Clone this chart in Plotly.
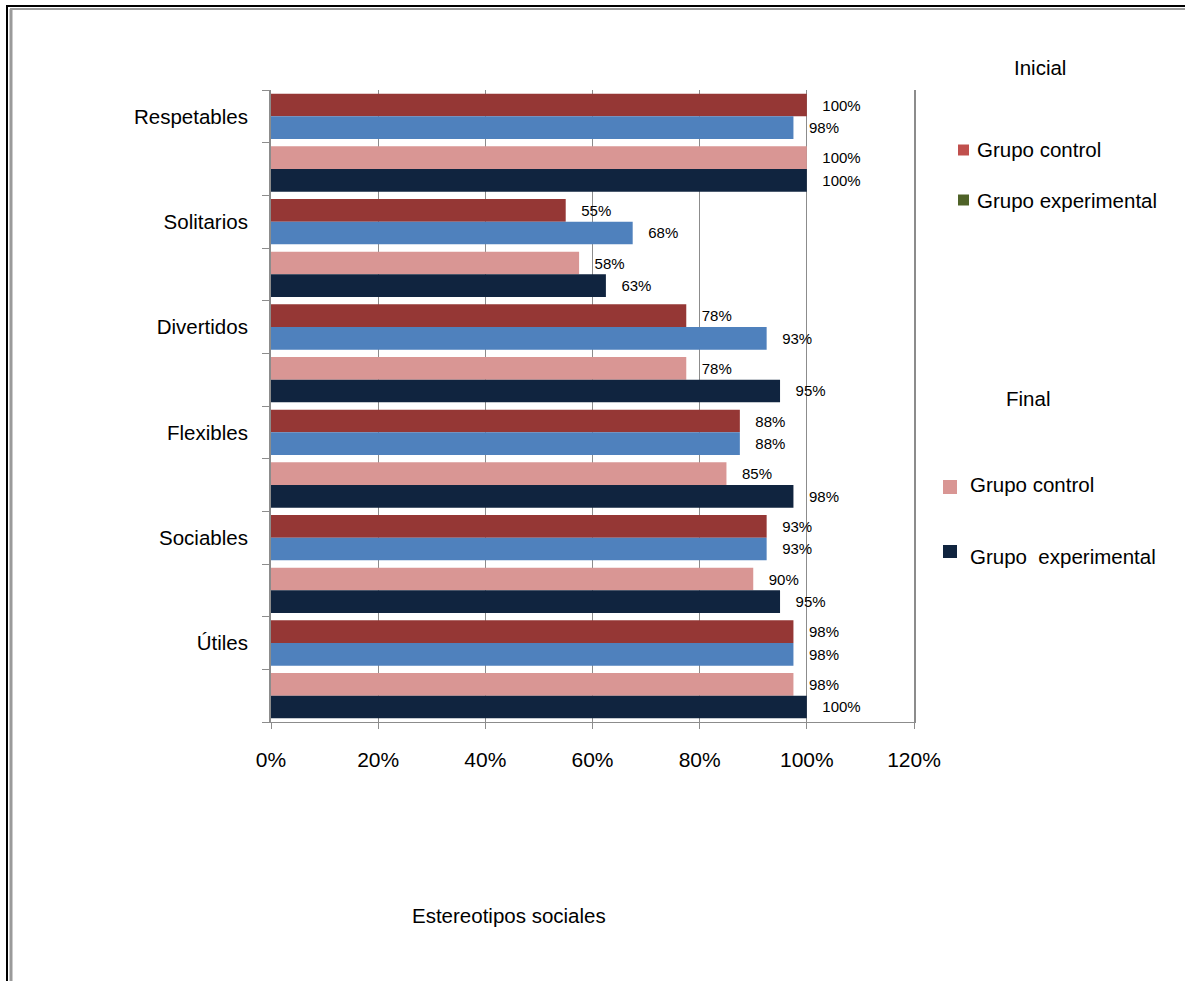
import plotly.graph_objects as go

categories = ["Respetables", "Solitarios", "Divertidos", "Flexibles", "Sociables", "Útiles"]
ini_control = [100, 55, 77.5, 87.5, 92.5, 97.5]
ini_experimental = [97.5, 67.5, 92.5, 87.5, 92.5, 97.5]
fin_control = [100, 57.5, 77.5, 85, 90, 97.5]
fin_experimental = [100, 62.5, 95, 97.5, 95, 100]
x_ticks = [0, 20, 40, 60, 80, 100, 120]

W, H = 1185, 981
L, R, T, B = 271, 271, 90, 259
PW, PH = W - L - R, H - T - B


def px(x):
    return (x - L) / PW


def py(y):
    return (H - B - y) / PH


def lab(vals):
    return ["\u00a0\u00a0\u00a0" + f"{int(v + 0.5)}%" for v in vals]


ini_y = [2 * i for i in range(len(categories))]
fin_y = [2 * i + 1 for i in range(len(categories))]
BW = 0.43
FONT = "Liberation Sans, Arial, sans-serif"

fig = go.Figure()
series = [
    (ini_control, ini_y, -BW, "#953735", "Inicial - Grupo control"),
    (ini_experimental, ini_y, 0, "#4F81BD", "Inicial - Grupo experimental"),
    (fin_control, fin_y, -BW, "#D99694", "Final - Grupo control"),
    (fin_experimental, fin_y, 0, "#10243F", "Final - Grupo experimental"),
]
for vals, ys, off, col, name in series:
    fig.add_trace(go.Bar(
        x=vals, y=ys, orientation="h", width=BW, offset=off,
        marker=dict(color=col, line=dict(width=0)), name=name,
        text=lab(vals), textposition="outside", constraintext="none",
        textfont=dict(size=15, color="#000000", family=FONT),
        cliponaxis=False, showlegend=False,
    ))

fig.update_layout(
    width=W, height=H, margin=dict(l=L, r=R, t=T, b=B),
    paper_bgcolor="white", plot_bgcolor="white",
    barmode="overlay", showlegend=False,
    font=dict(family=FONT, color="#000000", size=21),
    xaxis=dict(
        range=[0, 120], tickvals=x_ticks, ticktext=[f"{t}%" for t in x_ticks],
        showgrid=True, gridcolor="#8C8C8C", gridwidth=1, zeroline=False,
        showline=True, linecolor="#8C8C8C", linewidth=1,
        ticks="outside", ticklen=6, tickcolor="#8C8C8C",
        tickfont=dict(size=21), ticklabelstandoff=13,
    ),
    yaxis=dict(
        range=[11.5, -0.5], tickmode="array", tickvals=ini_y, ticktext=categories,
        ticks="", showgrid=False, zeroline=False,
        showline=True, mirror=True, linecolor="#8C8C8C", linewidth=2,
        tickfont=dict(size=20.5), ticklabelstandoff=17,
        minor=dict(tickmode="array", tickvals=[k - 0.5 for k in range(13)],
                   ticks="outside", ticklen=7, tickcolor="#8C8C8C", showgrid=False),
    ),
)

# frame lines
shapes = [
    dict(type="line", xref="paper", yref="paper", x0=px(7), x1=px(7), y0=py(6), y1=py(H), line=dict(color="#000000", width=2)),
    dict(type="line", xref="paper", yref="paper", x0=px(11), x1=px(11), y0=py(9), y1=py(H), line=dict(color="#9A9A9A", width=3)),
    dict(type="line", xref="paper", yref="paper", x0=px(6), x1=px(W), y0=py(6), y1=py(6), line=dict(color="#000000", width=2)),
    dict(type="line", xref="paper", yref="paper", x0=px(10), x1=px(W), y0=py(9), y1=py(9), line=dict(color="#9A9A9A", width=2)),
    # legend squares
    dict(type="rect", xref="paper", yref="paper", x0=px(958), x1=px(969), y0=py(144.5), y1=py(155.5), fillcolor="#C0504D", line=dict(width=0)),
    dict(type="rect", xref="paper", yref="paper", x0=px(958), x1=px(969), y0=py(194.5), y1=py(205.5), fillcolor="#4F6228", line=dict(width=0)),
    dict(type="rect", xref="paper", yref="paper", x0=px(943), x1=px(957), y0=py(480), y1=py(494), fillcolor="#D99694", line=dict(width=0)),
    dict(type="rect", xref="paper", yref="paper", x0=px(943), x1=px(957), y0=py(545), y1=py(558), fillcolor="#10243F", line=dict(width=0)),
]
fig.update_layout(shapes=shapes)

ann = [
    ("Inicial", 1040, 67, "center"),
    ("Grupo control", 975, 150, "left"),
    ("Grupo experimental", 975, 200, "left"),
    ("Final", 1028, 398, "center"),
    ("Grupo control", 968, 484, "left"),
    ("Grupo\u00a0 experimental", 968, 556, "left"),
    ("Estereotipos sociales", 509, 915, "center"),
]
for txt, x, y, anc in ann:
    fig.add_annotation(text=txt, x=px(x), y=py(y), xref="paper", yref="paper",
                       xanchor=anc, yanchor="middle", showarrow=False,
                       font=dict(size=20.5, family=FONT, color="#000000"))

fig.write_html("out.html")
